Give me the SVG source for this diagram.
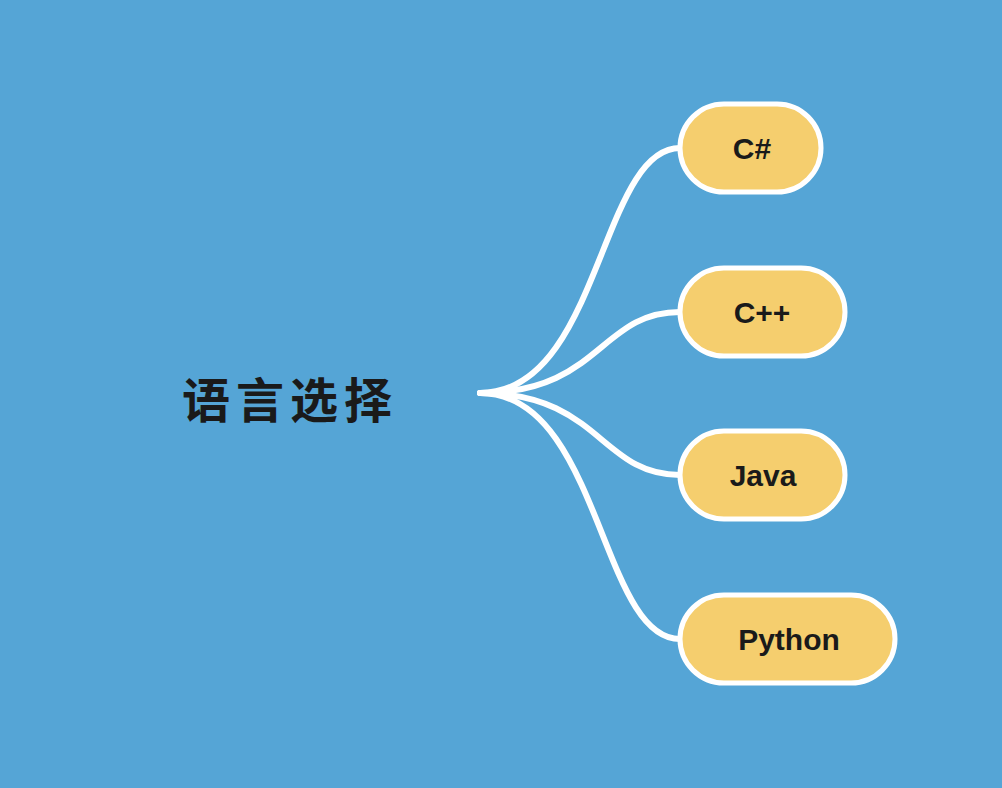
<svg xmlns="http://www.w3.org/2000/svg" width="1002" height="788" viewBox="0 0 1002 788">
<style>
.n rect{fill:#F5CE6E;stroke:#fff;stroke-width:5}
.n text{font-family:"Liberation Sans","DejaVu Sans",sans-serif;font-weight:bold;font-size:30px;fill:#1a1a1a;text-anchor:middle;dominant-baseline:central}
.c path{fill:none;stroke:#fff;stroke-width:6;stroke-linecap:round}
</style>
<rect width="1002" height="788" fill="#55A5D6"/>
<g class="c" id="connectors">
<path d="M480 393 C600 393 600 148 680 148"/>
<path d="M480 393 C600 393 600 312 680 312"/>
<path d="M480 393 C600 393 600 475 680 475"/>
<path d="M480 393 C600 393 600 639 680 639"/>
</g>
<g id="root"><text x="290" y="397" font-family="'Noto Sans CJK SC',sans-serif" font-weight="bold" font-size="48" fill="#1a1a1a" text-anchor="middle" dominant-baseline="central" letter-spacing="6">语言选择</text></g>
<g class="n" id="n1"><rect x="680" y="104" width="141" height="88" rx="44"/><text x="752" y="148">C#</text></g>
<g class="n" id="n2"><rect x="680" y="268" width="165" height="88" rx="44"/><text x="762" y="312">C++</text></g>
<g class="n" id="n3"><rect x="680" y="431" width="165" height="88" rx="44"/><text x="763" y="475">Java</text></g>
<g class="n" id="n4"><rect x="680" y="595" width="215" height="88" rx="44"/><text x="789" y="639">Python</text></g>
</svg>
